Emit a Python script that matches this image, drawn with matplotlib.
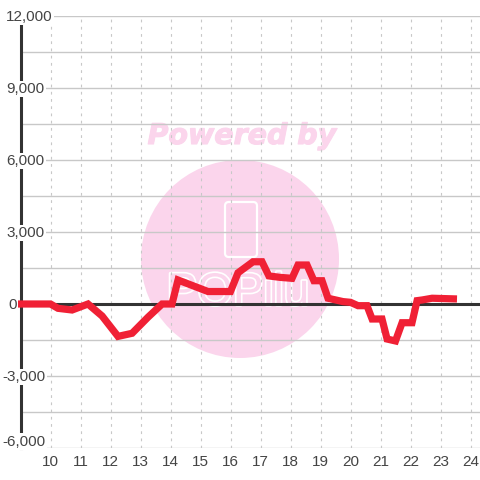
#!/usr/bin/env python3

import matplotlib
matplotlib.use('Agg')
import matplotlib.pyplot as plt
import matplotlib.patheffects as pe
from matplotlib.patches import Circle, FancyBboxPatch

hours = [8.88, 10.0, 10.25, 10.72, 11.25, 11.72, 12.25, 12.72, 13.25, 13.72, 14.05, 14.25, 15.25, 16.0,
         16.25, 16.75, 17.05, 17.28, 17.65, 18.05, 18.25, 18.55, 18.78, 19.05, 19.25, 19.75, 20.0, 20.25,
         20.55, 20.72, 21.05, 21.22, 21.5, 21.72, 22.05, 22.22, 22.4, 22.72, 23.55]
values = [0, 0, -180, -250, 0, -500, -1350, -1220, -550, 0, 0, 1000, 520, 520,
          1300, 1760, 1760, 1170, 1110, 1070, 1625, 1625, 970, 970, 240, 100, 70, -70,
          -70, -625, -625, -1460, -1540, -780, -780, 140, 170, 240, 210]

x_ticks = list(range(10, 25))
y_major = [12000, 9000, 6000, 3000, 0, -3000, -6000]
y_labels = ['12,000', '9,000', '6,000', '3,000', '0', '-3,000', '-6,000']
y_label_px = [6, 6, 6, 6, 8, 2, 2]
y_label_up = [-0.5, -0.7, -0.7, -0.7, -0.7, -0.7, 4.5]
y_minor = [10500, 7500, 4500, 1500, -1500, -4500]

plt.rcParams['font.family'] = ['Liberation Sans', 'DejaVu Sans']

W = 480.0
fig = plt.figure(figsize=(4.8, 4.8), dpi=100)
ax = fig.add_axes([20.5 / W, 1 - 448 / W, (W - 20.5) / W, 432 / W])
ax.patch.set_alpha(0)
ax.set_zorder(2)
ax.set_xlim(9, 9 + (W - 20.5) / 30)
ax.set_ylim(-6000, 12000)

# watermark sits behind the axes
pink = '#fbd5ec'
fig.add_artist(Circle((240 / W, 1 - 259 / W), 99 / W, transform=fig.transFigure, fc=pink, ec='none', zorder=0))
fig.add_artist(FancyBboxPatch((225 / W, 1 - 257 / W), 32 / W, 55 / W, boxstyle='round,pad=0,rounding_size=0.008',
                              transform=fig.transFigure, fc='none', ec='white', lw=1.6, zorder=1))
logo = fig.text(238 / W, 1 - 305 / W, 'POPilu', color=pink, fontsize=33, ha='center', va='baseline', zorder=1)
logo.set_path_effects([pe.Stroke(linewidth=2.4, foreground='white'), pe.Normal()])
powered = fig.text(242 / W, 1 - 136 / W, 'Powered by', color=pink, family='DejaVu Sans', weight='bold', style='italic',
                   fontsize=20.5, ha='center', va='center', zorder=1)
powered.set_path_effects([pe.Stroke(linewidth=0.8, foreground=pink), pe.Normal()])

ax.set_xticks(x_ticks)
ax.set_yticks(y_major)
ax.set_yticks(y_minor, minor=True)
ax.set_yticklabels([])
ax.set_xticklabels([str(t) for t in x_ticks], fontsize=11, color='#444444')
ax.tick_params(axis='both', which='both', length=0)
ax.tick_params(axis='x', pad=5.2)
ax.grid(True, axis='y', which='both', color='#c8c8c8', lw=1.0)
ax.grid(True, axis='x', color='#c8c8c8', lw=0.8, ls=(0, (2.5, 4)))
ax.set_axisbelow(True)

for s in ['top', 'right', 'bottom']:
    ax.spines[s].set_visible(False)
ax.spines['left'].set_color('#333333')
ax.spines['left'].set_linewidth(2.2)
ax.spines['left'].set_zorder(3)

ax.axhline(0, color='#333333', lw=2.2, zorder=3)
ax.plot(hours, values, color='#f02035', lw=5.2, solid_joinstyle='miter', solid_capstyle='butt',
        zorder=4, clip_on=False)

for v, lab, px, up in zip(y_major, y_labels, y_label_px, y_label_up):
    ax.annotate(lab, xy=(0, v), xycoords=('axes fraction', 'data'), xytext=((px - 20.5) * 0.72, up),
                textcoords='offset points', ha='left', va='center', fontsize=11, color='#444444', zorder=5,
                annotation_clip=False, bbox=dict(fc='white', ec='none', pad=1.0))

fig.savefig('out.png', dpi=100)
